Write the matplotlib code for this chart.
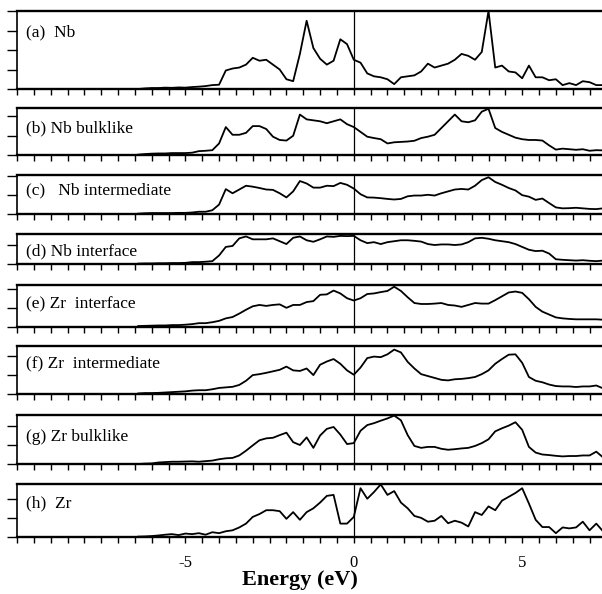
import numpy as np
import matplotlib
matplotlib.use("Agg")
import matplotlib.pyplot as plt

plt.rcParams['font.family'] = ['Liberation Serif', 'DejaVu Serif']

# energy grid (eV), 0.2 eV steps
energy = np.round(np.arange(-6.4, 7.41, 0.2), 2)

# DOS values (units = tick spacing)
dos_nb = [0.0, 0.03, 0.05, 0.05, 0.07, 0.06, 0.08, 0.07, 0.1, 0.12,
          0.15, 0.2, 0.22, 0.95, 1.05, 1.1, 1.25, 1.6, 1.45, 1.5,
          1.25, 1.0, 0.5, 0.4, 1.8, 3.5, 2.1, 1.55, 1.25, 1.45,
          2.55, 2.3, 1.5, 1.35, 0.8, 0.65, 0.6, 0.5, 0.25, 0.6,
          0.65, 0.7, 0.9, 1.3, 1.1, 1.2, 1.3, 1.5, 1.8, 1.7,
          1.5, 1.9, 4.0, 1.1, 1.2, 0.9, 0.85, 0.55, 1.2, 0.6,
          0.6, 0.45, 0.5, 0.2, 0.3, 0.2, 0.4, 0.35, 0.2, 0.2]
dos_nb_bulk = [0.02, 0.05, 0.07, 0.08, 0.08, 0.1, 0.1, 0.1, 0.12, 0.2,
               0.22, 0.25, 0.6, 1.45, 1.05, 1.05, 1.15, 1.5, 1.5, 1.35,
               0.95, 0.78, 0.75, 1.0, 2.1, 1.85, 1.8, 1.75, 1.65, 1.75,
               1.85, 1.6, 1.45, 1.2, 0.95, 0.88, 0.82, 0.6, 0.66, 0.68,
               0.7, 0.74, 0.88, 0.95, 1.05, 1.4, 1.75, 2.1, 1.75, 1.7,
               1.8, 2.25, 2.4, 1.4, 1.2, 1.05, 0.9, 0.82, 0.78, 0.78,
               0.75, 0.5, 0.28, 0.33, 0.3, 0.27, 0.3, 0.22, 0.25, 0.24]
dos_nb_inter = [0.02, 0.04, 0.05, 0.05, 0.05, 0.05, 0.06, 0.06, 0.08, 0.12,
                0.12, 0.2, 0.5, 1.32, 1.1, 1.3, 1.5, 1.45, 1.38, 1.3,
                1.28, 1.1, 0.88, 1.2, 1.75, 1.62, 1.4, 1.4, 1.5, 1.48,
                1.65, 1.55, 1.35, 1.05, 0.88, 0.87, 0.84, 0.8, 0.77, 0.8,
                0.94, 0.98, 0.98, 1.02, 0.98, 1.1, 1.2, 1.3, 1.33, 1.3,
                1.5, 1.8, 1.95, 1.7, 1.55, 1.38, 1.25, 1.0, 0.92, 0.75,
                0.82, 0.58, 0.35, 0.3, 0.31, 0.33, 0.3, 0.27, 0.26, 0.3]
dos_nb_iface = [0.02, 0.03, 0.03, 0.04, 0.04, 0.05, 0.05, 0.06, 0.1, 0.1,
                0.12, 0.15, 0.45, 0.9, 0.95, 1.35, 1.45, 1.3, 1.3, 1.3,
                1.35, 1.2, 1.05, 1.38, 1.45, 1.25, 1.17, 1.3, 1.45, 1.43,
                1.48, 1.47, 1.48, 1.25, 1.1, 1.15, 1.05, 1.15, 1.2, 1.25,
                1.25, 1.22, 1.18, 1.05, 1.0, 1.03, 1.03, 1.0, 1.03, 1.15,
                1.35, 1.38, 1.33, 1.25, 1.2, 1.15, 1.05, 0.9, 0.75, 0.68,
                0.7, 0.55, 0.25, 0.22, 0.2, 0.18, 0.2, 0.17, 0.15, 0.18]
dos_zr_iface = [0.05, 0.06, 0.07, 0.08, 0.08, 0.1, 0.1, 0.12, 0.15, 0.2,
                0.2, 0.25, 0.32, 0.45, 0.52, 0.7, 0.9, 1.08, 1.15, 1.1,
                1.15, 1.18, 1.0, 1.15, 1.15, 1.3, 1.35, 1.68, 1.7, 1.9,
                1.75, 1.5, 1.38, 1.5, 1.72, 1.75, 1.82, 1.88, 2.1, 1.88,
                1.55, 1.25, 1.2, 1.2, 1.22, 1.25, 1.15, 1.12, 1.05, 1.15,
                1.25, 1.22, 1.22, 1.4, 1.6, 1.8, 1.85, 1.78, 1.45, 1.05,
                0.8, 0.65, 0.5, 0.45, 0.42, 0.4, 0.4, 0.4, 0.4, 0.38]
dos_zr_inter = [0.03, 0.05, 0.05, 0.06, 0.08, 0.1, 0.12, 0.14, 0.18, 0.2,
                0.2, 0.25, 0.32, 0.35, 0.38, 0.48, 0.7, 1.0, 1.05, 1.12,
                1.2, 1.28, 1.45, 1.25, 1.22, 1.35, 1.0, 1.55, 1.72, 1.85,
                1.6, 1.25, 1.02, 1.4, 1.9, 1.98, 1.95, 2.1, 2.35, 2.2,
                1.7, 1.35, 1.05, 0.95, 0.85, 0.75, 0.72, 0.78, 0.8, 0.84,
                0.9, 1.05, 1.25, 1.6, 1.85, 2.08, 2.1, 1.65, 0.9, 0.7,
                0.62, 0.5, 0.42, 0.4, 0.4, 0.37, 0.4, 0.4, 0.45, 0.3]
dos_zr_bulk = [0.0, 0.02, 0.03, 0.08, 0.1, 0.12, 0.12, 0.13, 0.14, 0.12,
               0.15, 0.18, 0.25, 0.3, 0.32, 0.45, 0.7, 0.98, 1.25, 1.35,
               1.38, 1.52, 1.65, 1.15, 1.0, 1.4, 0.85, 1.5, 1.85, 1.95,
               1.55, 1.05, 1.1, 1.75, 2.05, 2.15, 2.28, 2.4, 2.55, 2.3,
               1.52, 0.95, 0.85, 0.9, 0.9, 0.8, 0.75, 0.78, 0.82, 0.85,
               0.95, 1.1, 1.3, 1.72, 1.88, 2.02, 2.2, 1.8, 0.9, 0.6,
               0.5, 0.47, 0.43, 0.4, 0.42, 0.42, 0.45, 0.45, 0.65, 0.35]
dos_zr = [0.02, 0.03, 0.05, 0.08, 0.12, 0.15, 0.1, 0.18, 0.15, 0.2,
          0.12, 0.25, 0.2, 0.3, 0.35, 0.5, 0.7, 1.05, 1.2, 1.4,
          1.4, 1.35, 0.95, 1.3, 0.9, 1.3, 1.5, 1.8, 2.15, 2.2,
          0.7, 0.7, 1.05, 2.55, 2.0, 2.35, 2.75, 2.2, 2.4, 1.8,
          1.5, 1.1, 1.0, 0.8, 0.85, 1.1, 0.72, 0.85, 0.75, 0.55,
          1.3, 1.15, 1.6, 1.4, 1.9, 2.1, 2.3, 2.55, 1.75, 0.9,
          0.52, 0.52, 0.2, 0.5, 0.45, 0.5, 0.8, 0.35, 0.7, 0.3]

labels = ['(a)  Nb', '(b) Nb bulklike', '(c)   Nb intermediate', '(d) Nb interface',
          '(e) Zr  interface', '(f) Zr  intermediate', '(g) Zr bulklike', '(h)  Zr']
series = [dos_nb, dos_nb_bulk, dos_nb_inter, dos_nb_iface,
          dos_zr_iface, dos_zr_inter, dos_zr_bulk, dos_zr]
ytops = [4.0, 2.44, 2.07, 1.58, 2.19, 2.54, 2.58, 2.77]

# panel pixel extents (top, bottom)
W, H = 602, 594
boxes = [(11, 89), (108, 155), (175, 214), (234, 264),
         (285, 327), (346, 394), (415, 464), (484, 537)]
label_y = [32, 128, 190, 251, 304, 363, 437, 503]

fig = plt.figure(figsize=(W / 100, H / 100), dpi=100)
xt = np.arange(-10, 7.01, 0.5)
for i, (lab, y, top, (t, b)) in enumerate(zip(labels, series, ytops, boxes)):
    ax = fig.add_axes([17 / W, 1 - b / H, 1 - 17 / W, (b - t) / H])
    ax.plot(energy, y, color='black', lw=1.3)
    ax.axvline(0, color='black', lw=0.9)
    ax.set_xlim(-10, 7.37)
    ax.set_ylim(0, top)
    ax.set_yticks(np.arange(0, np.floor(top) + 1))
    ax.set_yticklabels([])
    ax.set_xticks(xt)
    if i == len(labels) - 1:
        ax.set_xticklabels(['-5' if v == -5 else '0' if v == 0 else '5' if v == 5 else '' for v in xt],
                           fontsize=12)
    else:
        ax.set_xticklabels([])
    ax.tick_params(axis='y', direction='out', length=7, width=1.0)
    ax.tick_params(axis='x', direction='out', length=4, width=1.0, pad=9)
    ax.spines['right'].set_visible(False)
    ax.spines['top'].set_linewidth(1.7)
    ax.spines['bottom'].set_linewidth(1.7)
    ax.spines['left'].set_linewidth(1.2)
    fig.text(26 / W, 1 - label_y[i] / H, lab, fontsize=12.5, va='center', ha='left')

fig.text(300 / W, 1 - 580 / H, 'Energy (eV)', fontsize=16, fontweight='bold',
         ha='center', va='center')
fig.savefig('out.png', dpi=100)
